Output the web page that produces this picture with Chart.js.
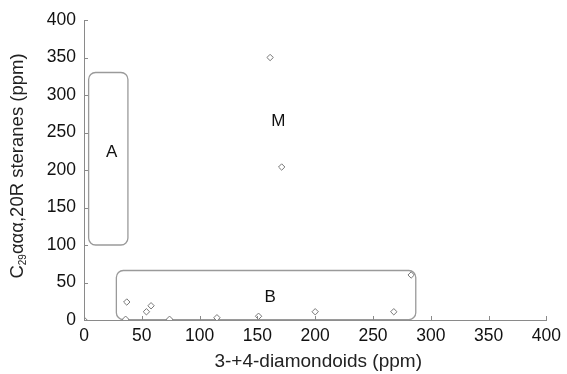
<!DOCTYPE html>
<html>
<head>
<meta charset="utf-8">
<script src="https://cdn.jsdelivr.net/npm/chart.js@4"></script>
<style>
  body { margin: 0; background: #fff; }
  #wrap { width: 567px; height: 374px; }
</style>
</head>
<body>
<div id="wrap"><canvas id="chartDiamondoids"></canvas></div>
<script>
// Datos
const diamondoides = [0, 36, 37, 54, 58, 74, 115, 151, 200, 268, 283, 161, 171];
const esteranos    = [0, 1, 24, 11, 19, 1, 3, 5, 11, 11, 60, 350, 204];

const ticks_ejes = [0, 50, 100, 150, 200, 250, 300, 350, 400];

// Zonas A, B y M (en unidades de los ejes)
const zonas_nombres = ["A", "B", "M"];
const zonas_x = [24, 161, 168];
const zonas_y = [223, 30, 265];
const cajas = [
  { x0: 4, x1: 38, y0: 100, y1: 330 },
  { x0: 28, x1: 287, y0: 0.5, y1: 66 }
];

const FUENTE = '"Liberation Sans", Arial, Helvetica, sans-serif';
const GRIS = '#8a8a8a';

function cajaRedondeada(ctx, x, y, w, h, r) {
  ctx.beginPath();
  ctx.moveTo(x + r, y);
  ctx.lineTo(x + w - r, y);
  ctx.arcTo(x + w, y, x + w, y + r, r);
  ctx.lineTo(x + w, y + h - r);
  ctx.arcTo(x + w, y + h, x + w - r, y + h, r);
  ctx.lineTo(x + r, y + h);
  ctx.arcTo(x, y + h, x, y + h - r, r);
  ctx.lineTo(x, y + r);
  ctx.arcTo(x, y, x + r, y, r);
  ctx.closePath();
  ctx.stroke();
}

const pluginExtras = {
  id: 'extras',
  beforeDatasetsDraw(chart) {
    const ctx = chart.ctx;
    const sx = chart.scales.x, sy = chart.scales.y;
    ctx.save();
    ctx.strokeStyle = '#9a9a9a';
    ctx.lineWidth = 1.3;
    cajas.forEach(c => {
      const x0 = sx.getPixelForValue(c.x0), x1 = sx.getPixelForValue(c.x1);
      const y0 = sy.getPixelForValue(c.y1), y1 = sy.getPixelForValue(c.y0);
      cajaRedondeada(ctx, x0, y0, x1 - x0, y1 - y0, 7);
    });
    ctx.restore();
  },
  afterDraw(chart) {
    const ctx = chart.ctx;
    const sx = chart.scales.x, sy = chart.scales.y;
    const area = chart.chartArea;
    ctx.save();

    // marcas hacia dentro
    ctx.strokeStyle = GRIS;
    ctx.lineWidth = 1;
    ctx.beginPath();
    sx.ticks.forEach((t, i) => {
      const px = Math.round(sx.getPixelForTick(i)) + 0.5;
      ctx.moveTo(px, area.bottom);
      ctx.lineTo(px, area.bottom - 4);
    });
    sy.ticks.forEach((t, i) => {
      const py = Math.round(sy.getPixelForTick(i)) + 0.5;
      ctx.moveTo(area.left, py);
      ctx.lineTo(area.left + 4, py);
    });
    ctx.stroke();

    // etiquetas de zonas
    ctx.fillStyle = '#111';
    ctx.font = '17px ' + FUENTE;
    ctx.textAlign = 'center';
    ctx.textBaseline = 'middle';
    zonas_nombres.forEach((n, i) => {
      ctx.fillText(n, sx.getPixelForValue(zonas_x[i]), sy.getPixelForValue(zonas_y[i]));
    });

    // título eje x
    ctx.fillStyle = '#222';
    ctx.font = '19px ' + FUENTE;
    ctx.textBaseline = 'alphabetic';
    ctx.fillText('3-+4-diamondoids (ppm)', (area.left + area.right) / 2 + 3, 367);

    // título eje y con subíndice
    ctx.translate(23, (area.top + area.bottom) / 2 - 4);
    ctx.rotate(-Math.PI / 2);
    const partes = [
      { t: 'C', f: '18.5px ' + FUENTE, dy: 0 },
      { t: '29', f: '10px ' + FUENTE, dy: 3 },
      { t: 'ααα,20R steranes (ppm)', f: '18.5px ' + FUENTE, dy: 0 }
    ];
    let total = 0;
    partes.forEach(p => { ctx.font = p.f; total += ctx.measureText(p.t).width; });
    let x = -total / 2;
    ctx.textAlign = 'left';
    partes.forEach(p => {
      ctx.font = p.f;
      ctx.fillText(p.t, x, p.dy);
      x += ctx.measureText(p.t).width;
    });
    ctx.restore();
  }
};

function grafico_diamondoides() {
  const canvas = document.getElementById('chartDiamondoids');
  new Chart(canvas, {
    type: 'scatter',
    data: {
      datasets: [{
        label: 'Muestras',
        data: diamondoides.map((v, i) => ({ x: v, y: esteranos[i] })),
        pointStyle: 'rectRot',
        pointRadius: 3.2,
        pointBorderWidth: 1,
        borderColor: '#777',
        backgroundColor: '#fff'
      }]
    },
    options: {
      responsive: true,
      maintainAspectRatio: false,
      animation: false,
      layout: { padding: { top: 20, right: 19, left: 0, bottom: 0 } },
      plugins: { legend: { display: false }, tooltip: { enabled: false } },
      scales: {
        x: {
          type: 'linear', min: 0, max: 400,
          afterBuildTicks: s => { s.ticks = ticks_ejes.map(v => ({ value: v })); },
          afterFit: s => { s.height = 54; },
          grid: { display: false, drawTicks: false },
          border: { display: true, color: GRIS, width: 1 },
          ticks: { color: '#111', padding: 6, font: { size: 17.5, family: FUENTE }, maxRotation: 0 }
        },
        y: {
          type: 'linear', min: 0, max: 400,
          afterBuildTicks: s => { s.ticks = ticks_ejes.map(v => ({ value: v })); },
          afterFit: s => { s.width = 84; },
          grid: { display: false, drawTicks: false },
          border: { display: true, color: GRIS, width: 1 },
          ticks: { color: '#111', padding: 8, font: { size: 17.5, family: FUENTE } }
        }
      }
    },
    plugins: [pluginExtras]
  });
}

grafico_diamondoides();
</script>
</body>
</html>
